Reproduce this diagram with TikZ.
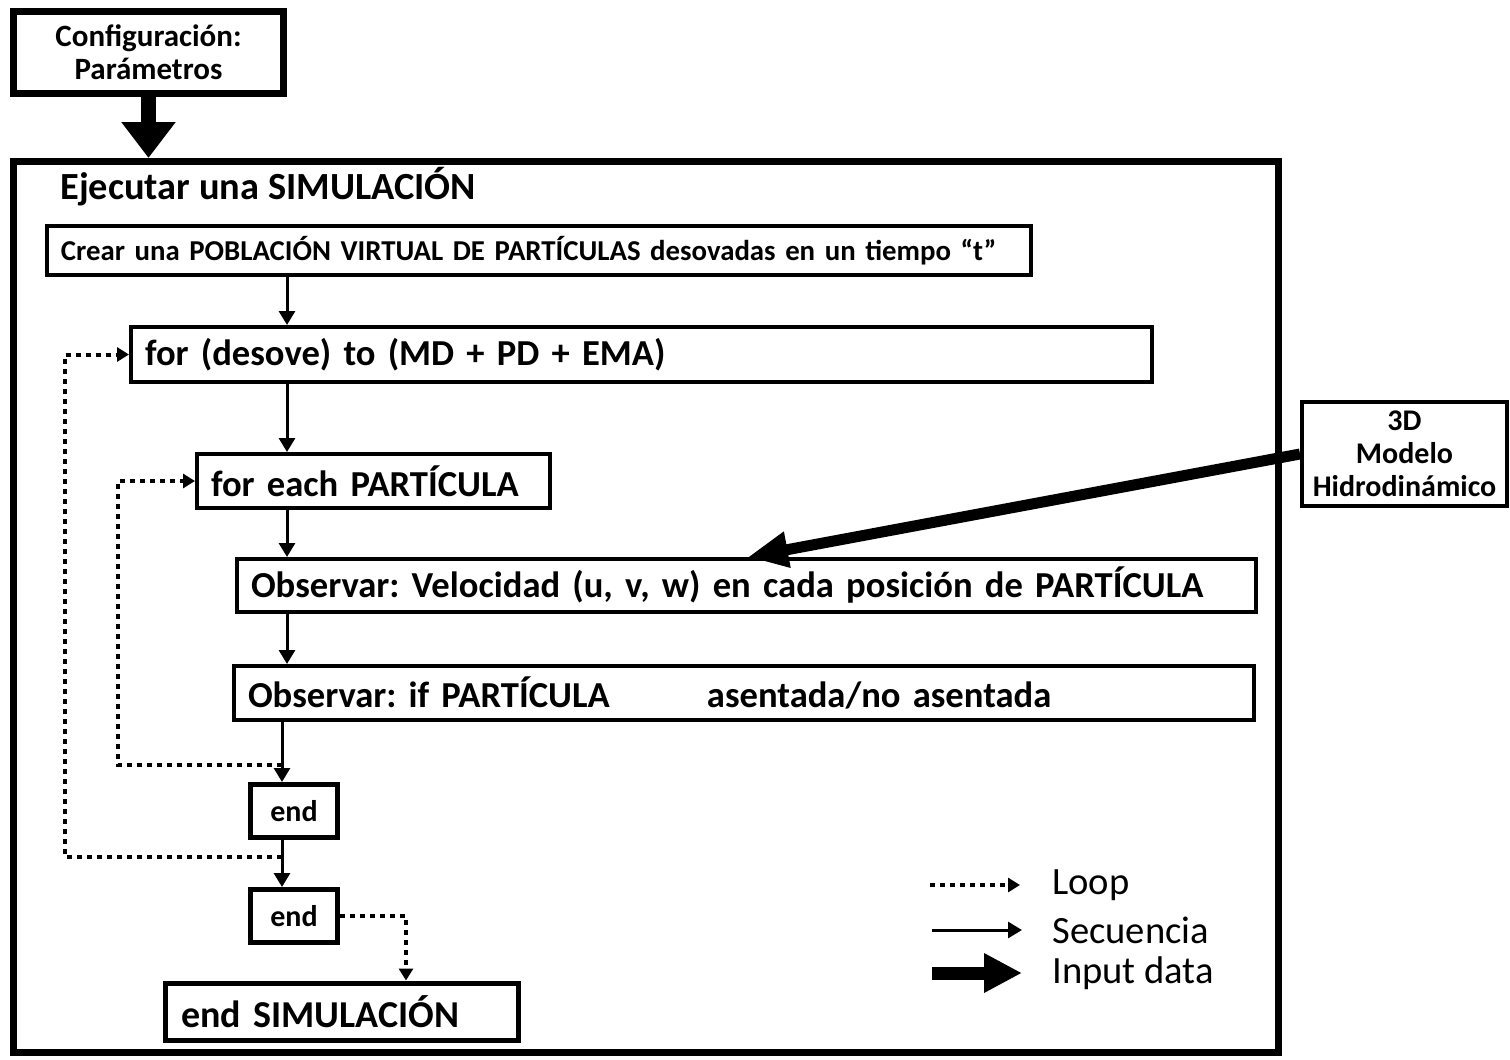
\documentclass[tikz,border=0pt]{standalone}
\usepackage{fontspec}
\setmainfont{Carlito}
\usetikzlibrary{arrows.meta}
\frenchspacing

\begin{document}
\begin{tikzpicture}[x=0.5pt,y=-0.5pt,
    stepbox/.style={draw, line width=2pt, anchor=north west, inner xsep=7pt, inner ysep=0pt, align=left, font=\bfseries\fontsize{18.3}{21}\selectfont},
    endbox/.style={draw, line width=2.5pt, minimum width=43.5pt, minimum height=26.5pt, inner sep=0pt, font=\bfseries\fontsize{15}{18}\selectfont},
    seq/.style={line width=1.5pt, -{Triangle[width=8pt,length=7pt]}},
    loopline/.style={line width=2pt, dash pattern=on 2.5pt off 2.5pt, -{Triangle[width=7pt,length=6pt]}},
    input/.style={line width=7.5pt, -{Triangle[width=26pt,length=18pt]}},
    legend/.style={anchor=west, inner sep=0pt, font=\fontsize{19.3}{22}\selectfont}]
    \useasboundingbox (0,0) rectangle (1510,1060);

    \node[draw, line width=3.5pt, minimum width=135pt, minimum height=41pt, align=center, font=\bfseries\fontsize{15.5}{16.5}\selectfont] (config) at (148.5,52.5) {Configuración:\\Parámetros};
    \node[draw, line width=3.5pt, minimum width=632.5pt, minimum height=445.5pt] (sim) at (646,607) {};
    \node[anchor=west, inner sep=0pt, font=\bfseries\fontsize{19.2}{22}\selectfont] (title) at (60,187) {Ejecutar una SIMULACIÓN};

    \node[stepbox, text width=478pt, minimum height=24.5pt, font=\bfseries\fontsize{14.4}{16}\selectfont] (crear) at (45,224) {Crear una POBLACIÓN VIRTUAL DE PARTÍCULAS desovadas en un tiempo “t”};
    \node[stepbox, text width=496.5pt, minimum height=27.5pt] (fordes) at (129,325) {for (desove) to (MD + PD + EMA)};
    \node[stepbox, text width=162.5pt, minimum height=27pt] (foreach) at (195,452) {for each PARTÍCULA};
    \node[stepbox, text width=495.5pt, minimum height=26.5pt] (obsvel) at (235,557) {Observar: Velocidad (u, v, w) en cada posición de PARTÍCULA};
    \node[stepbox, text width=496pt, minimum height=27pt] (obsif) at (232,664) {\makebox[229.5pt][l]{Observar: if PARTÍCULA}asentada/no asentada};
    \node[endbox] (endA) at (294,811) {end};
    \node[endbox] (endB) at (294,916) {end};
    \node[stepbox, line width=2.5pt, inner xsep=8pt, text width=160.5pt, minimum height=28.5pt, font=\bfseries\fontsize{19}{22}\selectfont] (endsim) at (162.5,980.5) {end SIMULACIÓN};
    \node[draw, line width=2pt, minimum width=102.5pt, minimum height=52pt, align=center, font=\bfseries\fontsize{15}{16.5}\selectfont] (hydro) at (1404.5,454) {3D\\Modelo\\Hidrodinámico};

    % secuencia
    \coordinate (spine) at (287,0);
    \coordinate (spineB) at (282,0);
    \draw[seq] (crear.south -| spine) -- (fordes.north -| spine);
    \draw[seq] (fordes.south -| spine) -- (foreach.north -| spine);
    \draw[seq] (foreach.south -| spine) -- (obsvel.north -| spine);
    \draw[seq] (obsvel.south -| spine) -- (obsif.north -| spine);
    \draw[seq] (obsif.south -| spineB) -- (endA.north -| spineB);
    \draw[seq] (endA.south -| spineB) -- (endB.north -| spineB);

    % loops
    \coordinate (innerA) at (282,765);
    \coordinate (innerB) at (118,765);
    \draw[loopline] (innerA) -- (innerB) |- (foreach.west);
    \coordinate (outerA) at (282,857);
    \coordinate (outerB) at (65,857);
    \draw[loopline] (outerA) -- (outerB) |- (fordes.west);
    \coordinate (exitx) at (406,0);
    \draw[loopline] (endB.east) -| (endsim.north -| exitx);

    % input data
    \draw[input] (config.south) -- (config.south |- sim.north);
    \coordinate (hydroin) at (748,0);
    \draw[line width=5.5pt, -{Triangle[width=17pt,length=20pt]}] (hydro.west) -- (obsvel.north -| hydroin);

    % leyenda
    \coordinate (lgA) at (930,885);
    \coordinate (lgAe) at (1020,885);
    \coordinate (lgB) at (932,930);
    \coordinate (lgBe) at (1022,930);
    \coordinate (lgC) at (932,973);
    \coordinate (lgCe) at (1022,973);
    \draw[loopline] (lgA) -- (lgAe);
    \draw[seq] (lgB) -- (lgBe);
    \draw[line width=6.5pt, -{Triangle[width=18.5pt,length=19pt]}] (lgC) -- (lgCe);
    \node[legend] (lgloop) at (1052,885) {Loop};
    \node[legend] (lgseq) at (1052,930) {Secuencia};
    \node[legend] (lginput) at (1052,973) {Input data};
\end{tikzpicture}
\end{document}
